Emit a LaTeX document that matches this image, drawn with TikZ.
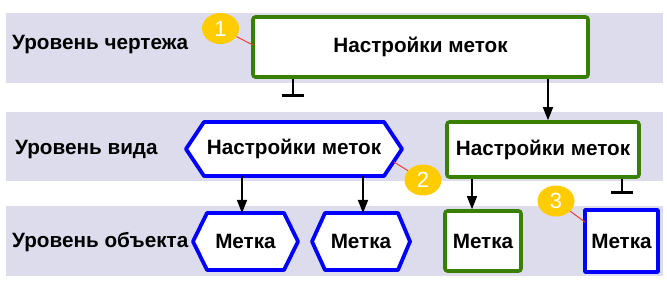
\documentclass[tikz,border=0pt]{standalone}
\usepackage{fontspec}
\setmainfont{Liberation Sans}
\usetikzlibrary{arrows.meta,shapes.geometric}
\definecolor{band}{RGB}{220,220,236}
\definecolor{gr}{RGB}{58,128,0}
\definecolor{bl}{RGB}{0,0,255}
\definecolor{yel}{RGB}{255,204,0}
\definecolor{redl}{RGB}{240,60,60}
\tikzset{
  lvl/.style={anchor=west, font=\fontsize{20.7}{24}\selectfont\bfseries, inner sep=0},
  greenbox/.style={draw=gr, line width=3.6pt, fill=white, rounded corners=2.5pt, font=\fontsize{20.7}{24}\selectfont\bfseries, inner sep=0},
  bluebox/.style={draw=bl, line width=3.8pt, fill=white, line join=round, font=\fontsize{20.7}{24}\selectfont\bfseries, inner sep=0},
  hexarea/.style={font=\fontsize{20.7}{24}\selectfont\bfseries, inner sep=0, outer sep=0},
  hexline/.style={draw=bl, line width=3.8pt, fill=white, line join=round},
  arr/.style={line width=1.5pt, -{Triangle[length=13pt,width=10pt]}},
  tee/.style={line width=1.5pt, -{Bar[width=22pt,line width=3pt]}},
  callout/.style={ellipse, fill=yel, text=white, minimum width=37pt, minimum height=31pt, inner sep=0, font=\fontsize{22}{24}\selectfont},
  leader/.style={draw=redl, line width=1pt}
}
\begin{document}
\begin{tikzpicture}[x=1pt,y=-1pt]
\useasboundingbox (0,0) rectangle (667,286);
% bands
\fill[band] (6,13) rectangle (663,83);
\fill[band] (6,112) rectangle (663,181);
\fill[band] (6,206) rectangle (663,276);
% level labels
\node[lvl] (l1) at (12,45) {Уровень чертежа};
\node[lvl] (l2) at (15,150) {Уровень вида};
\node[lvl] (l3) at (12,242) {Уровень объекта};
% drawing level
\node[greenbox, minimum width=335pt, minimum height=60pt] (top) at (420.5,47) {Настройки меток};
% view level
\node[hexarea, minimum width=216pt, minimum height=54pt] (vh) at (294,149) {};
\node[greenbox, minimum width=192pt, minimum height=55pt] (vg) at (543,149.5) {Настройки меток};
% object level
\node[hexarea, minimum width=105pt, minimum height=57pt] (o1) at (245.5,241.5) {};
\node[hexarea, minimum width=98pt, minimum height=57pt] (o2) at (361,241.5) {};
\node[greenbox, minimum width=76pt, minimum height=60pt] (o3) at (483,241) {Метка};
\node[bluebox, minimum width=73pt, minimum height=62pt] (o4) at (621.5,241) {Метка};
% hexagon outlines
\draw[hexline] (vh.west) -- ([xshift=18pt]vh.north west) -- ([xshift=-18pt]vh.north east) -- (vh.east) -- ([xshift=-18pt]vh.south east) -- ([xshift=18pt]vh.south west) -- cycle;
\node[hexarea] (vht) at (vh.center) {Настройки меток};
\draw[hexline] (o1.west) -- ([xshift=14pt]o1.north west) -- ([xshift=-14pt]o1.north east) -- (o1.east) -- ([xshift=-14pt]o1.south east) -- ([xshift=14pt]o1.south west) -- cycle;
\node[hexarea] (o1t) at (o1.center) {Метка};
\draw[hexline] (o2.west) -- ([xshift=13pt]o2.north west) -- ([xshift=-12pt]o2.north east) -- (o2.east) -- ([xshift=-12pt]o2.south east) -- ([xshift=13pt]o2.south west) -- cycle;
\node[hexarea] (o2t) at (o2.center) {Метка};
% connectors
\coordinate (t1) at (293,97);
\coordinate (t2) at (622,194);
\draw[tee] (top.south -| t1) -- (t1);
\draw[arr] (top.south -| 548,0) -- (vg.north -| 548,0);
\draw[arr] ([xshift=-52pt]vh.south) -- ([xshift=-52pt]vh.south |- o1.north);
\draw[arr] ([xshift=69pt]vh.south) -- ([xshift=69pt]vh.south |- o2.north);
\coordinate (a3s) at ([xshift=-11pt]vg.south -| o3.north);
\draw[arr] (a3s) -- (a3s |- o3.north);
\draw[tee] (vg.south -| t2) -- (t2);
% callouts
\coordinate (p1) at (253,45);
\coordinate (p2) at (394,162);
\coordinate (p3) at (585,222);
\node[callout] (c1) at (220.5,28.5) {1};
\node[callout] (c2) at (423,180) {2};
\node[callout] (c3) at (556,201) {3};
\draw[leader] (c1) -- (p1);
\draw[leader] (c2) -- (p2);
\draw[leader] (c3) -- (p3);
\end{tikzpicture}
\end{document}
